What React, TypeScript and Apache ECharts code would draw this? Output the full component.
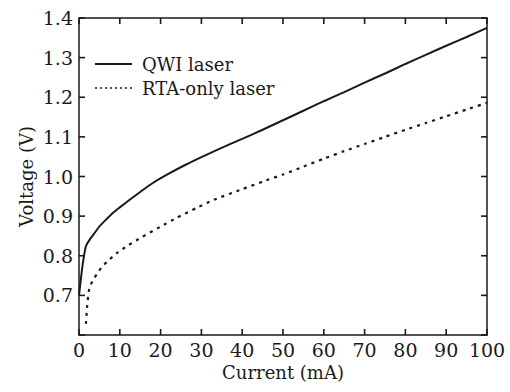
import React, { useEffect, useRef } from "react";
import * as echarts from "echarts";

const seriesNames = ["QWI laser", "RTA-only laser"];

const qwiCurrent = [0, 0.5, 1, 1.7, 2.7, 4, 5, 6.5, 8.3, 10, 12.5, 15, 18, 22, 26, 30, 34, 40, 45, 50, 55, 60, 65, 70, 75, 80, 85, 90, 95, 100];
const qwiVoltage = [0.7, 0.745, 0.785, 0.824, 0.842, 0.86, 0.874, 0.89, 0.908, 0.922, 0.942, 0.961, 0.983, 1.007, 1.029, 1.049, 1.068, 1.095, 1.118, 1.142, 1.166, 1.19, 1.213, 1.237, 1.26, 1.284, 1.307, 1.33, 1.352, 1.375];

const rtaCurrent = [1.7, 2.0, 2.5, 3.4, 4.4, 5.5, 6.9, 8.3, 9.6, 12, 15.4, 19.9, 24, 28.9, 33, 40, 45, 50, 55, 60, 65, 70, 75, 80, 85, 90, 95, 100];
const rtaVoltage = [0.628, 0.673, 0.716, 0.738, 0.754, 0.77, 0.785, 0.798, 0.809, 0.826, 0.847, 0.873, 0.896, 0.921, 0.941, 0.968, 0.987, 1.005, 1.025, 1.045, 1.064, 1.082, 1.1, 1.118, 1.135, 1.152, 1.169, 1.186];

const xTickValues = [0, 10, 20, 30, 40, 50, 60, 70, 80, 90, 100];
const yTickValues = [0.6, 0.7, 0.8, 0.9, 1.0, 1.1, 1.2, 1.3, 1.4];

const X_MIN = xTickValues[0];
const X_MAX = xTickValues[xTickValues.length - 1];
const Y_MIN = yTickValues[0];
const Y_MAX = yTickValues[yTickValues.length - 1];

const FONT = "DejaVu Serif";
const INK = "#1a1a1a";
const TICK = 6;

export default function App() {
  const ref = useRef<HTMLDivElement>(null);

  useEffect(() => {
    if (!ref.current) return;
    const chart = echarts.init(ref.current, undefined, { renderer: "svg" });
    const tickStyle = { stroke: INK, lineWidth: 1.6 };
    const axisBase = (extra: any) => ({
      type: "value",
      axisLine: { show: true, onZero: false, lineStyle: { color: INK, width: 1.5 } },
      axisTick: { show: false },
      splitLine: { show: false },
      ...extra,
    });
    chart.setOption({
      animation: false,
      backgroundColor: "#ffffff",
      grid: { left: 79, right: 23, top: 18, bottom: 57, containLabel: false },
      legend: {
        orient: "vertical",
        left: 95,
        top: 55,
        itemWidth: 37,
        itemHeight: 14,
        itemGap: 6,
        padding: 0,
        textStyle: { fontFamily: FONT, fontSize: 18, color: INK, padding: [0, 0, 0, 5] },
        data: seriesNames.map((n) => ({ name: n, icon: "none" })) as any,
      },
      graphic: [
        { type: "line", shape: { x1: 95, y1: 64, x2: 132, y2: 64 }, style: { stroke: INK, lineWidth: 2 } },
        { type: "line", shape: { x1: 95, y1: 88, x2: 132, y2: 88 }, style: { stroke: INK, lineWidth: 1.5, lineDash: [2, 3] } },
      ],
      xAxis: [
        axisBase({
          position: "bottom",
          min: X_MIN,
          max: X_MAX,
          interval: 10,
          axisLabel: { fontFamily: FONT, fontSize: 19, color: INK, margin: 5 },
          name: "Current (mA)",
          nameLocation: "middle",
          nameGap: 28,
          nameMoveOverlap: false,
          nameTextStyle: { fontFamily: FONT, fontSize: 18, color: INK },
        }),
        axisBase({
          position: "top",
          min: X_MIN,
          max: X_MAX,
          interval: 10,
          axisLabel: { show: false },
        }),
      ],
      yAxis: [
        axisBase({
          position: "left",
          min: Y_MIN,
          max: Y_MAX,
          interval: 0.1,
          axisLabel: {
            fontFamily: FONT,
            fontSize: 19,
            color: INK,
            margin: 6,
            formatter: (v: number) => (Math.abs(v - Y_MIN) < 1e-6 ? "" : v.toFixed(1)),
          },
          name: "Voltage (V)",
          nameLocation: "middle",
          nameGap: 44,
          nameMoveOverlap: false,
          nameTextStyle: { fontFamily: FONT, fontSize: 18, color: INK },
        }),
        axisBase({
          position: "right",
          min: Y_MIN,
          max: Y_MAX,
          interval: 0.1,
          axisLabel: { show: false },
        }),
      ],
      series: [
        {
          name: seriesNames[0],
          type: "line",
          xAxisIndex: 0,
          yAxisIndex: 0,
          showSymbol: false,
          symbol: "none",
          smooth: 0.2,
          lineStyle: { color: INK, width: 2, type: "solid" },
          itemStyle: { color: INK },
          data: qwiCurrent.map((c, i) => [c, qwiVoltage[i]]),
        },
        {
          name: seriesNames[1],
          type: "line",
          xAxisIndex: 0,
          yAxisIndex: 0,
          showSymbol: false,
          symbol: "none",
          smooth: 0.2,
          lineStyle: { color: INK, width: 2.2, type: [3, 5] },
          itemStyle: { color: INK },
          data: rtaCurrent.map((c, i) => [c, rtaVoltage[i]]),
        },
        {
          name: "xTicks",
          type: "custom",
          xAxisIndex: 0,
          yAxisIndex: 0,
          silent: true,
          clip: false,
          data: xTickValues.map((v) => [v, Y_MIN]),
          renderItem: (_p: any, api: any) => {
            const v = api.value(0);
            const b = api.coord([v, Y_MIN]);
            const t = api.coord([v, Y_MAX]);
            return {
              type: "group",
              children: [
                { type: "line", shape: { x1: b[0], y1: b[1], x2: b[0], y2: b[1] - TICK }, style: tickStyle },
                { type: "line", shape: { x1: t[0], y1: t[1], x2: t[0], y2: t[1] + TICK }, style: tickStyle },
              ],
            };
          },
        },
        {
          name: "yTicks",
          type: "custom",
          xAxisIndex: 0,
          yAxisIndex: 0,
          silent: true,
          clip: false,
          data: yTickValues.map((v) => [X_MIN, v]),
          renderItem: (_p: any, api: any) => {
            const v = api.value(1);
            const l = api.coord([X_MIN, v]);
            const r = api.coord([X_MAX, v]);
            return {
              type: "group",
              children: [
                { type: "line", shape: { x1: l[0], y1: l[1], x2: l[0] + TICK, y2: l[1] }, style: tickStyle },
                { type: "line", shape: { x1: r[0], y1: r[1], x2: r[0] - TICK, y2: r[1] }, style: tickStyle },
              ],
            };
          },
        },
      ],
    });
    return () => chart.dispose();
  }, []);

  return (
    <div
      ref={ref}
      style={{ position: "fixed", left: 0, top: 0, width: 510, height: 392, background: "#fff" }}
    />
  );
}
